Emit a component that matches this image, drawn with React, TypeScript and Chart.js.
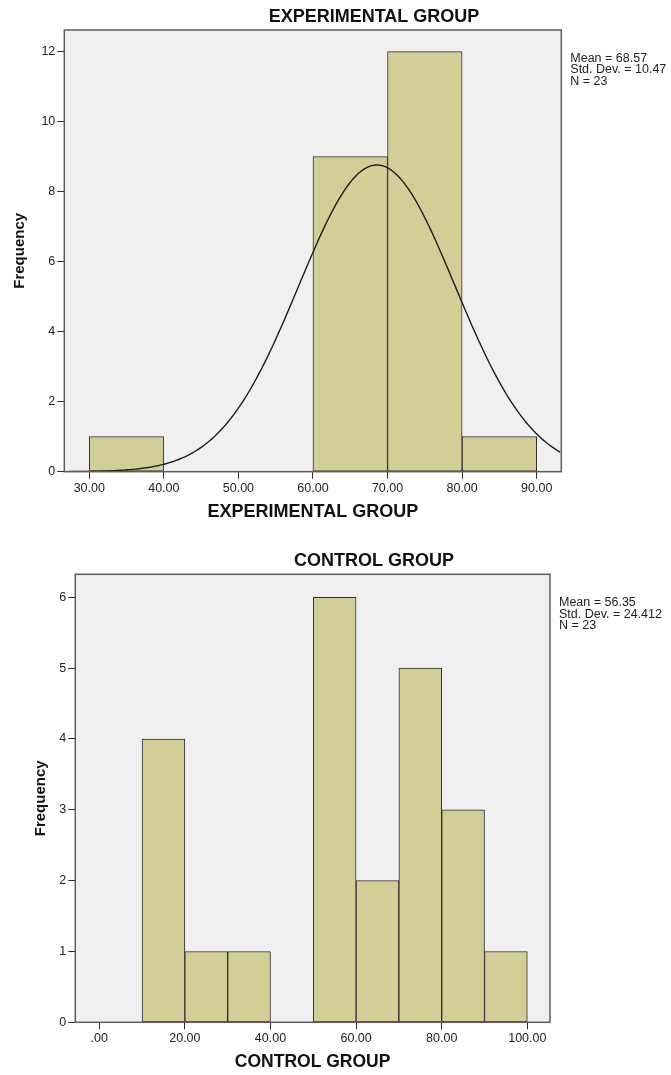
import React, { useEffect, useRef } from 'react';
import { Chart, registerables } from 'chart.js';

Chart.register(...registerables);

// ---------- data: EXPERIMENTAL GROUP ----------
const EXP_BIN_START = [30, 60, 70, 80];
const EXP_COUNTS = [1, 9, 12, 1];
const EXP_X_TICKS = [30, 40, 50, 60, 70, 80, 90];
const EXP_Y_TICKS = [0, 2, 4, 6, 8, 10, 12];
const EXP_MEAN = 68.57;
const EXP_SD = 10.47;
const EXP_N = 23;
const EXP_STATS_LINES = ['Mean = 68.57', 'Std. Dev. = 10.47', 'N = 23'];

// ---------- data: CONTROL GROUP ----------
const CTRL_BIN_START = [10, 20, 30, 50, 60, 70, 80, 90];
const CTRL_COUNTS = [4, 1, 1, 6, 2, 5, 3, 1];
const CTRL_X_TICKS = [0, 20, 40, 60, 80, 100];
const CTRL_Y_TICKS = [0, 1, 2, 3, 4, 5, 6];
const CTRL_STATS_LINES = ['Mean = 56.35', 'Std. Dev. = 24.412', 'N = 23'];

const BIN_WIDTH = 10;
const FONT = '"Liberation Sans", Arial, sans-serif';

type Geo = {
  width: number;
  height: number;
  left: number;
  right: number;
  top: number;
  bottom: number;
  titleX: number;
  titleY: number;
  xTitleCenter: number;
  yTitleCenter: number;
  xTitleSize: number;
};

type Props = {
  binStart: number[];
  counts: number[];
  xTicks: number[];
  yTicks: number[];
  xMin: number;
  xMax: number;
  yMax: number;
  title: string;
  xTitle: string;
  statsLines: string[];
  normal?: { mean: number; sd: number; n: number };
  geo: Geo;
  pageTop: number;
};

function Histogram(p: Props) {
  const ref = useRef<HTMLCanvasElement | null>(null);
  useEffect(() => {
    if (!ref.current) return;
    const g = p.geo;
    const xTitleLH = g.xTitleSize * 1.2;
    const xAxisHeight = g.height - g.bottom;
    const xTitlePadBottom = g.height - g.xTitleCenter - xTitleLH / 2;
    const yTitleSize = 15;
    const yTitleLH = yTitleSize * 1.2;
    const yTitlePadTop = g.yTitleCenter - yTitleLH / 2;

    const barData = p.binStart.map((s, i) => ({ x: s + BIN_WIDTH / 2, y: p.counts[i] }));
    const datasets: any[] = [
      {
        type: 'bar',
        data: barData,
        backgroundColor: '#D3CE98',
        borderColor: '#2e2e2e',
        borderWidth: 1,
        borderSkipped: false,
        barPercentage: 1,
        categoryPercentage: 1,
        order: 1,
      },
    ];
    if (p.normal) {
      const { mean, sd, n } = p.normal;
      const pts: { x: number; y: number }[] = [];
      for (let x = p.xMin; x <= p.xMax + 0.001; x += 0.25) {
        const z = (x - mean) / sd;
        pts.push({ x, y: (n * BIN_WIDTH) / (sd * Math.sqrt(2 * Math.PI)) * Math.exp(-0.5 * z * z) });
      }
      datasets.push({
        type: 'line',
        data: pts,
        borderColor: '#1e1e1e',
        borderWidth: 1.4,
        pointRadius: 0,
        fill: false,
        tension: 0,
        order: 0,
      });
    }

    const framePlugin = {
      id: 'frame',
      beforeDatasetsDraw(chart: any) {
        const { ctx, chartArea: a } = chart;
        ctx.save();
        ctx.fillStyle = '#F0F0F0';
        ctx.fillRect(a.left, a.top, a.right - a.left, a.bottom - a.top);
        ctx.restore();
      },
      afterDatasetsDraw(chart: any) {
        const { ctx, chartArea: a } = chart;
        ctx.save();
        ctx.strokeStyle = '#5e5e5e';
        ctx.lineWidth = 1.5;
        ctx.strokeRect(a.left, a.top, a.right - a.left, a.bottom - a.top);
        ctx.restore();
      },
      afterDraw(chart: any) {
        const { ctx, chartArea: a } = chart;
        ctx.save();
        // chart title
        ctx.fillStyle = '#111';
        ctx.font = `bold 18px ${FONT}`;
        ctx.textAlign = 'center';
        ctx.textBaseline = 'middle';
        ctx.fillText(p.title, g.titleX, g.titleY);
        // statistics box
        ctx.fillStyle = '#222';
        ctx.font = `12.5px ${FONT}`;
        ctx.textAlign = 'left';
        ctx.textBaseline = 'middle';
        p.statsLines.forEach((t, i) => {
          ctx.fillText(t, a.right + 9, a.top + 28.5 + i * 11.3);
        });
        ctx.restore();
      },
    };

    const chart = new Chart(ref.current, {
      type: 'bar',
      data: { datasets },
      plugins: [framePlugin],
      options: {
        responsive: false,
        animation: false,
        layout: { padding: { left: 0, right: g.width - g.right, top: g.top, bottom: 0 } },
        plugins: {
          legend: { display: false },
          tooltip: { enabled: false },
          title: { display: false },
        },
        scales: {
          x: {
            type: 'linear',
            min: p.xMin,
            max: p.xMax,
            offset: false,
            afterBuildTicks: (s: any) => {
              s.ticks = p.xTicks.map((v) => ({ value: v }));
            },
            afterFit: (s: any) => {
              s.height = xAxisHeight;
            },
            ticks: {
              autoSkip: false,
              maxRotation: 0,
              padding: 2,
              color: '#222',
              font: { family: FONT, size: 12.5 },
              callback: (v: any) => (Number(v) === 0 ? '.00' : Number(v).toFixed(2)),
            },
            grid: { offset: false, drawOnChartArea: false, drawTicks: true, tickLength: 7, color: '#2a2a2a', lineWidth: 1 },
            border: { display: false },
            title: {
              display: true,
              text: p.xTitle,
              color: '#111',
              font: { family: FONT, size: g.xTitleSize, weight: 'bold', lineHeight: 1.2 },
              padding: { top: 0, bottom: xTitlePadBottom },
            },
          },
          y: {
            type: 'linear',
            min: 0,
            max: p.yMax,
            afterBuildTicks: (s: any) => {
              s.ticks = p.yTicks.map((v) => ({ value: v }));
            },
            afterFit: (s: any) => {
              s.width = g.left;
            },
            ticks: {
              padding: 2,
              color: '#222',
              font: { family: FONT, size: 12.5 },
              callback: (v: any) => String(v),
            },
            grid: { drawOnChartArea: false, drawTicks: true, tickLength: 7, color: '#2a2a2a', lineWidth: 1 },
            border: { display: false },
            title: {
              display: true,
              text: 'Frequency',
              color: '#111',
              font: { family: FONT, size: yTitleSize, weight: 'bold', lineHeight: 1.2 },
              padding: { top: yTitlePadTop, bottom: 0 },
            },
          },
        },
      } as any,
    });
    return () => chart.destroy();
  }, []);

  return (
    <canvas
      ref={ref}
      width={p.geo.width}
      height={p.geo.height}
      style={{ position: 'absolute', left: 0, top: p.pageTop, width: p.geo.width, height: p.geo.height }}
    />
  );
}

export default function App() {
  return (
    <div style={{ position: 'absolute', left: 0, top: 0, width: 671, height: 1075, background: '#fff' }}>
      <Histogram
        binStart={EXP_BIN_START}
        counts={EXP_COUNTS}
        xTicks={EXP_X_TICKS}
        yTicks={EXP_Y_TICKS}
        xMin={26.65}
        xMax={93.3}
        yMax={12.62}
        title="EXPERIMENTAL GROUP"
        xTitle="EXPERIMENTAL GROUP"
        statsLines={EXP_STATS_LINES}
        normal={{ mean: EXP_MEAN, sd: EXP_SD, n: EXP_N }}
        pageTop={0}
        geo={{ width: 671, height: 540, left: 64.3, right: 561.3, top: 30, bottom: 471.7, titleX: 374, titleY: 17, xTitleCenter: 512, yTitleCenter: 20, xTitleSize: 18 }}
      />
      <Histogram
        binStart={CTRL_BIN_START}
        counts={CTRL_COUNTS}
        xTicks={CTRL_X_TICKS}
        yTicks={CTRL_Y_TICKS}
        xMin={-5.6}
        xMax={105.3}
        yMax={6.325}
        title="CONTROL GROUP"
        xTitle="CONTROL GROUP"
        statsLines={CTRL_STATS_LINES}
        pageTop={540}
        geo={{ width: 671, height: 535, left: 75.3, right: 550, top: 34.3, bottom: 482.3, titleX: 374, titleY: 21, xTitleCenter: 522, yTitleCenter: 41, xTitleSize: 17.5 }}
      />
    </div>
  );
}
